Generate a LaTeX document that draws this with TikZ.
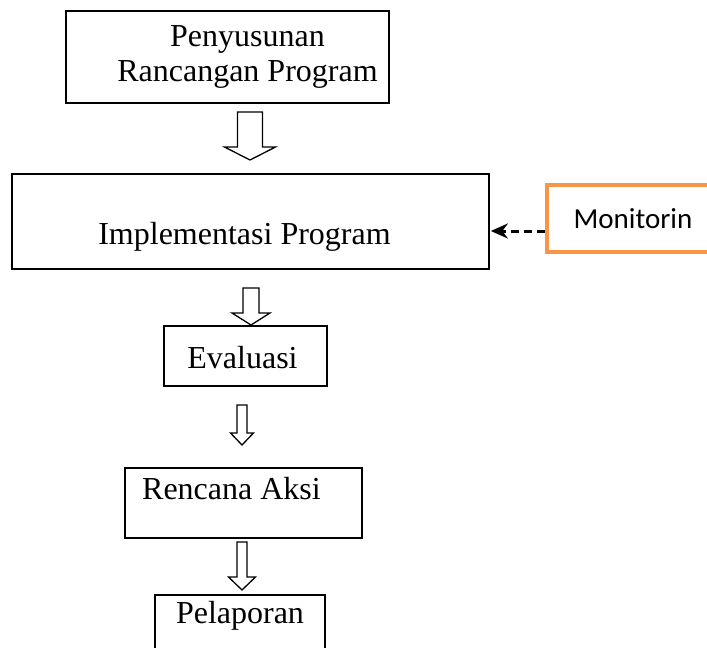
\documentclass[tikz,border=0pt]{standalone}
\usepackage{fontspec}
\setmainfont{Liberation Serif}
\newfontfamily\monfont{Carlito}
\usetikzlibrary{arrows.meta,calc}
\definecolor{monorange}{HTML}{F79646}

% hollow block arrow: top point, tip point, half shaft, half head, head length
\newcommand{\blockarrow}[5]{%
  \draw[arrowbody] ([xshift=-#3]#1) -- ([xshift=-#3,yshift=#5]#2)
    -- ([xshift=-#4,yshift=#5]#2) -- (#2) -- ([xshift=#4,yshift=#5]#2)
    -- ([xshift=#3,yshift=#5]#2) -- ([xshift=#3]#1) -- cycle;}

\begin{document}
\begin{tikzpicture}[x=1pt,y=-1pt,
  box/.style={draw, line width=1.7pt, inner sep=0pt, font=\fontsize{32}{35}\selectfont},
  monbox/.style={draw=monorange, line width=4pt, inner sep=0pt, font=\monfont\fontsize{29}{32}\selectfont},
  arrowbody/.style={draw, line width=1.3pt, fill=white, line join=miter},
  dasharrow/.style={dash pattern=on 8pt off 5pt, line width=3pt, shorten >=1pt, -{Stealth[length=17pt,width=15pt]}}]

  \useasboundingbox (0,0) rectangle (707,648);
  \clip (0,0) rectangle (707,648);

  \node[box, anchor=north, minimum width=323, minimum height=92, align=center] (rancangan) at (227.5,10) {\hspace*{40pt}Penyusunan\\\hspace*{40pt}Rancangan Program};
  \node[box, anchor=north, minimum width=477, text height=71pt, text depth=24pt] (implementasi) at (250.5,173) {Implementasi Program\hspace*{12pt}};
  \node[monbox, anchor=north west, minimum width=172, minimum height=67] (monitor) at (545,183) {Monitorin};
  \node[box, anchor=north, minimum width=163, text height=43pt, text depth=17pt] (evaluasi) at (245.5,325) {Evaluasi\hspace*{6pt}};
  \node[box, anchor=north, minimum width=237, text height=32pt, text depth=38pt] (rencana) at (243.5,467) {Rencana Aksi\hspace*{24pt}};
  \node[box, anchor=north, minimum width=170, text height=29pt, text depth=40pt] (pelaporan) at (240,594) {Pelaporan};

  % block arrows between the steps
  \coordinate (a1top) at (250,112);
  \coordinate (a1tip) at (250,160);
  \coordinate (a2top) at (251,288);
  \coordinate (a2tip) at (251,325);
  \coordinate (a3top) at (242,405);
  \coordinate (a3tip) at (242,445);
  \coordinate (a4top) at (242,542);
  \coordinate (a4tip) at (242,590);
  \blockarrow{a1top}{a1tip}{12.5}{25.5}{13}
  \blockarrow{a2top}{a2tip}{8}{19}{12}
  \blockarrow{a3top}{a3tip}{5}{11.5}{12}
  \blockarrow{a4top}{a4tip}{5}{13.5}{13}

  % monitoring feeds back into implementation
  \coordinate (monout) at ([yshift=-12.5pt]monitor.west);
  \draw[dasharrow] (monout) -- (monout -| implementasi.east);
\end{tikzpicture}
\end{document}
